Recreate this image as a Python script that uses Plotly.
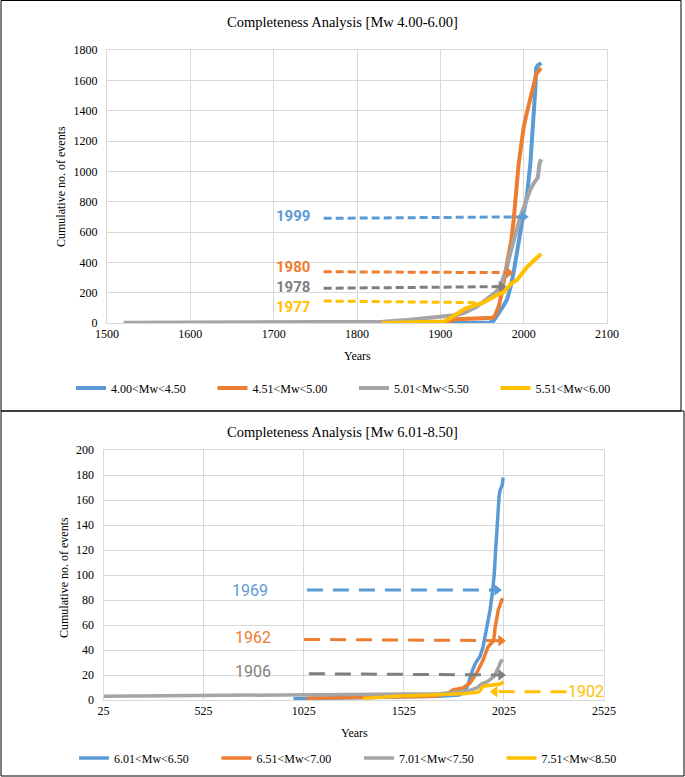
import plotly.graph_objects as go

W, H = 685, 777

# ---------------- Top chart data (Mw 4.00-6.00) ----------------
top_names = ["4.00<Mw<4.50", "4.51<Mw<5.00", "5.01<Mw<5.50", "5.51<Mw<6.00"]
top_b_years = [1905, 1930, 1960, 1964, 1968, 1972, 1976, 1980, 1984, 1988, 1992, 1996, 2000, 2004, 2008, 2011, 2014, 2015, 2017, 2019, 2021]
top_b_vals = [0, 2, 4, 15, 45, 80, 115, 155, 230, 335, 450, 600, 730, 840, 1050, 1280, 1540, 1680, 1700, 1705, 1715]
top_o_years = [1900, 1910, 1918, 1930, 1950, 1963, 1966, 1970, 1973, 1976, 1979, 1982, 1985, 1988, 1991, 1994, 1997, 2000, 2004, 2008, 2012, 2015, 2017, 2019, 2021]
top_o_vals = [5, 12, 25, 28, 30, 35, 55, 108, 180, 262, 350, 437, 540, 680, 870, 1050, 1170, 1290, 1390, 1470, 1570, 1640, 1660, 1670, 1680]
top_g_years = [1520, 1600, 1700, 1800, 1831, 1860, 1891, 1905, 1920, 1930, 1944, 1952, 1960, 1966, 1972, 1976, 1980, 1984, 1988, 1992, 1996, 2000, 2004, 2008, 2012, 2015, 2017, 2019, 2021]
top_g_vals = [2, 3, 5, 6, 9, 20, 33, 45, 53, 70, 108, 140, 174, 200, 240, 300, 371, 460, 547, 620, 701, 760, 820, 880, 920, 950, 960, 1050, 1080]
top_y_years = [1830, 1860, 1890, 1905, 1912, 1920, 1930, 1940, 1951, 1960, 1968, 1975, 1980, 1985, 1992, 1998, 2004, 2010, 2016, 2019, 2021]
top_y_vals = [0, 2, 5, 10, 33, 60, 95, 115, 132, 160, 185, 198, 225, 260, 284, 330, 369, 400, 429, 440, 455]

# completeness markers (label, start year, end year, start value, end value, arrowhead)
top_marks = ["1999", "1980", "1978", "1977"]
top_mark_x0 = [1760, 1760, 1760, 1760]
top_mark_x1 = [2000, 1982, 1973, 1948]
top_mark_y0 = [690, 338, 229, 145]
top_mark_y1 = [700, 332, 240, 134]
top_mark_head = [True, True, True, False]
top_label_x = [1746, 1746, 1746, 1746]
top_label_y = [703, 369, 238, 108]

# ---------------- Bottom chart data (Mw 6.01-8.50) ----------------
bot_names = ["6.01<Mw<6.50", "6.51<Mw<7.00", "7.01<Mw<7.50", "7.51<Mw<8.50"]
bot_b_years = [974, 1200, 1500, 1700, 1800, 1830, 1845, 1860, 1871, 1885, 1906, 1920, 1931, 1945, 1956, 1969, 1977, 1983, 1989, 1995, 2001, 2006, 2012, 2017, 2021]
bot_b_vals = [1, 1.5, 2, 3, 4, 6, 12, 20, 25, 30, 35, 42, 51, 62, 72, 88, 101, 118, 135, 150, 163, 168, 170, 172, 178]
bot_o_years = [1040, 1300, 1500, 1671, 1740, 1771, 1800, 1821, 1856, 1889, 1921, 1946, 1969, 1976, 1981, 1990, 1997, 2006, 2014, 2021]
bot_o_vals = [1.5, 2, 2.5, 3, 5, 8, 9, 9.6, 13.6, 21.6, 32, 42.6, 46.6, 50, 58, 66, 72, 76, 80, 81]
bot_g_years = [25, 300, 600, 1000, 1400, 1700, 1806, 1850, 1889, 1914, 1940, 1956, 1970, 1980, 1989, 2000, 2010, 2021]
bot_g_vals = [3, 3.3, 3.7, 4, 4.5, 5, 6.7, 7.5, 9.6, 13, 14.5, 16, 18, 20, 24, 27, 31, 32]
bot_y_years = [1321, 1420, 1506, 1600, 1671, 1750, 1839, 1889, 1903, 1921, 1950, 1971, 2006, 2015, 2021]
bot_y_vals = [1.3, 2.5, 3.2, 3.6, 4, 4.6, 5.3, 6.1, 7, 11, 11.5, 12, 12.8, 13.5, 14.8]

bot_marks = ["1969", "1962", "1906", "1902"]
bot_mark_x0 = [1041, 1027, 1051, 2338]
bot_mark_x1 = [1990, 2010, 2010, 1980]
bot_mark_y0 = [88, 48.5, 21, 6.7]
bot_mark_y1 = [88, 47.5, 20, 6.7]
bot_label_x = [757, 772, 772, 2435]
bot_label_y = [87.5, 50, 23, 7.2]

COLORS = ["#5B9BD5", "#ED7D31", "#A5A5A5", "#FFC000"]
ARROW_COLORS = ["#5B9BD5", "#ED7D31", "#7F7F7F", "#FFC000"]

SERIF = "Liberation Serif"
SANS = "Roboto"

fig = go.Figure()

top_series = [(top_b_years, top_b_vals), (top_o_years, top_o_vals),
              (top_g_years, top_g_vals), (top_y_years, top_y_vals)]
for name, (xs, ys), c in zip(top_names, top_series, COLORS):
    fig.add_trace(go.Scatter(x=xs, y=ys, mode="lines", name=name,
                             line=dict(color=c, width=4), xaxis="x", yaxis="y",
                             legend="legend"))

bot_series = [(bot_b_years, bot_b_vals), (bot_o_years, bot_o_vals),
              (bot_g_years, bot_g_vals), (bot_y_years, bot_y_vals)]
for name, (xs, ys), c in zip(bot_names, bot_series, COLORS):
    fig.add_trace(go.Scatter(x=xs, y=ys, mode="lines", name=name,
                             line=dict(color=c, width=3.5), xaxis="x2", yaxis="y2",
                             legend="legend2"))

# dashed completeness arrows - top
for i in range(4):
    c = ARROW_COLORS[i]
    fig.add_trace(go.Scatter(x=[top_mark_x0[i], top_mark_x1[i]], y=[top_mark_y0[i], top_mark_y1[i]],
                             mode="lines", line=dict(color=c, width=3, dash="8px,4px"),
                             showlegend=False, xaxis="x", yaxis="y", hoverinfo="skip"))
    if top_mark_head[i]:
        fig.add_trace(go.Scatter(x=[top_mark_x1[i]], y=[top_mark_y1[i]], mode="markers",
                                 marker=dict(symbol="triangle-right", size=10, color=c),
                                 showlegend=False, xaxis="x", yaxis="y", hoverinfo="skip"))
    fig.add_annotation(x=top_label_x[i], y=top_label_y[i], xref="x", yref="y",
                       text="<b>%s</b>" % top_marks[i], showarrow=False,
                       xanchor="right", yanchor="middle",
                       font=dict(family=SANS, size=15, color=c))

# dashed completeness arrows - bottom
for i in range(4):
    c = ARROW_COLORS[i]
    fig.add_trace(go.Scatter(x=[bot_mark_x0[i], bot_mark_x1[i]], y=[bot_mark_y0[i], bot_mark_y1[i]],
                             mode="lines", line=dict(color=c, width=3, dash="16px,10px"),
                             showlegend=False, xaxis="x2", yaxis="y2", hoverinfo="skip"))
    sym = "triangle-right" if bot_mark_x1[i] > bot_mark_x0[i] else "triangle-left"
    fig.add_trace(go.Scatter(x=[bot_mark_x1[i]], y=[bot_mark_y1[i]], mode="markers",
                             marker=dict(symbol=sym, size=10, color=c),
                             showlegend=False, xaxis="x2", yaxis="y2", hoverinfo="skip"))
    fig.add_annotation(x=bot_label_x[i], y=bot_label_y[i], xref="x2", yref="y2",
                       text=bot_marks[i], showarrow=False,
                       xanchor="center", yanchor="middle",
                       font=dict(family=SANS, size=16, color=c))

def px_x(p):
    return p / W

def px_y(p):
    return 1 - p / H

grid = "#D9D9D9"
axis_common = dict(showgrid=True, gridcolor=grid, gridwidth=1, zeroline=False,
                   showline=True, linecolor=grid, linewidth=1, mirror=True,
                   automargin=False,
                   ticks="", tickfont=dict(family=SERIF, size=12, color="#000000"))

fig.update_layout(
    width=W, height=H, autosize=False,
    margin=dict(l=0, r=0, t=0, b=0, pad=0, autoexpand=False),
    paper_bgcolor="white", plot_bgcolor="white",
    xaxis=dict(domain=[px_x(107), px_x(607)], range=[1500, 2100], dtick=100,
               anchor="y", **axis_common),
    yaxis=dict(domain=[px_y(323), px_y(50)], range=[0, 1800], dtick=200,
               anchor="x", ticklabelstandoff=6, **axis_common),
    xaxis2=dict(domain=[px_x(103.5), px_x(604)], range=[25, 2525], tick0=25, dtick=500,
                anchor="y2", **axis_common),
    yaxis2=dict(domain=[px_y(700), px_y(450)], range=[0, 200], dtick=20,
                anchor="x2", ticklabelstandoff=6, **axis_common),
    legend=dict(orientation="h", x=px_x(71), y=px_y(388), xanchor="left", yanchor="middle",
                font=dict(family=SERIF, size=12, color="#000"), itemwidth=30,
                entrywidth=96.5, entrywidthmode="pixels", bgcolor="rgba(0,0,0,0)"),
    legend2=dict(orientation="h", x=px_x(74), y=px_y(758), xanchor="left", yanchor="middle",
                 font=dict(family=SERIF, size=12, color="#000"), itemwidth=30,
                 entrywidth=97.5, entrywidthmode="pixels", bgcolor="rgba(0,0,0,0)"),
    showlegend=True,
)

# Titles and axis titles
texts = [
    ("Completeness Analysis [Mw 4.00-6.00]", 342, 22, 0, 14.5),
    ("Years", 357, 356, 0, 12),
    ("Cumulative no. of events", 61, 187, -90, 12),
    ("Completeness Analysis [Mw 6.01-8.50]", 342, 432, 0, 14.5),
    ("Years", 354, 733, 0, 12),
    ("Cumulative no. of events", 64, 577, -90, 12),
]
for t, x, y, ang, sz in texts:
    fig.add_annotation(x=px_x(x), y=px_y(y), xref="paper", yref="paper", text=t,
                       showarrow=False, textangle=ang, xanchor="center", yanchor="middle",
                       font=dict(family=SERIF, size=sz, color="#000"))

# outer frames
fig.add_shape(type="rect", xref="paper", yref="paper", x0=px_x(1), x1=px_x(681),
              y0=px_y(411), y1=px_y(0.5), line=dict(color="#000", width=1))
fig.add_shape(type="rect", xref="paper", yref="paper", x0=px_x(1), x1=px_x(684),
              y0=px_y(776), y1=px_y(411), line=dict(color="#000", width=1))

fig.write_html("out.html", config={"displayModeBar": False},
               post_script="document.body.style.margin='0';document.body.style.overflow='hidden';")
